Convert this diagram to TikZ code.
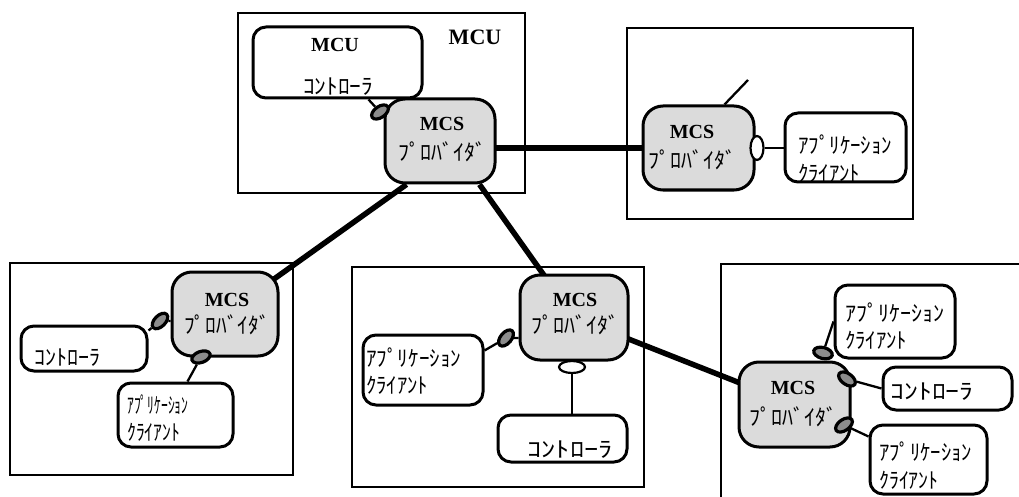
\documentclass[tikz,border=0pt]{standalone}
\usepackage{fontspec}
\setmainfont{Liberation Serif}
\newfontfamily\jp{Noto Sans CJK JP}
\usetikzlibrary{fit,shapes.geometric,backgrounds}
\begin{document}
\begin{tikzpicture}[x=1pt,y=-1pt,
  frame/.style={draw, line width=2.4pt, inner sep=0},
  prov/.style={draw, line width=3pt, rounded corners=20pt, fill=gray!28, inner sep=0},
  cbox/.style={draw, line width=3pt, rounded corners=13pt, fill=white, inner sep=0},
  blob/.style={ellipse, draw, line width=3.2pt, fill=black!45, minimum width=19pt, minimum height=11pt, inner sep=0},
  oport/.style={ellipse, draw, line width=2.2pt, fill=white, inner sep=0},
  link/.style={line width=5.5pt},
  wire/.style={line width=2.3pt},
  mcs/.style={font=\fontsize{20}{20}\selectfont\bfseries, inner sep=0},
  kana/.style={font=\jp\fontsize{22}{22}\selectfont, inner sep=0}]
\useasboundingbox (0,0) rectangle (1019,497);

% ---------- MCU site ----------
\node[frame, fit={(238,13) (525,193)}] (fU) {};
\node[mcs, font=\fontsize{22}{22}\selectfont\bfseries] (fUlab) at (475,37) {MCU};
\node[cbox, fit={(253,27) (422,98)}] (ctrlU) {};
\node[mcs] (ctrlUa) at (335,45) {MCU};
\node[kana] (ctrlUb) at (338,87) {\scalebox{1.06}[1]{ｺﾝﾄﾛｰﾗ}};
\node[prov, fit={(385,99) (495,183)}] (provU) {};
\node[mcs] (provUa) at (442,124) {MCS};
\node[kana] (provUb) at (442,152) {ﾌﾟﾛﾊﾞｲﾀﾞ};

% ---------- upper right site ----------
\node[frame, fit={(627,28) (913,219)}] (fR) {};
\node[prov, fit={(643,106) (754,190)}] (provR) {};
\node[mcs] (provRa) at (692,132) {MCS};
\node[kana] (provRb) at (692,160) {ﾌﾟﾛﾊﾞｲﾀﾞ};
\node[cbox, fit={(785,113) (906,182)}] (appR) {};
\node[kana, anchor=west] (appRa) at (798,145) {\scalebox{0.95}[1]{ｱﾌﾟﾘｹｰｼｮﾝ}};
\node[kana, anchor=west] (appRb) at (798,173) {\scalebox{0.94}[1]{ｸﾗｲｱﾝﾄ}};
\coordinate (tail) at (748,80);

% ---------- lower left site ----------
\node[frame, fit={(10,263) (293,475)}] (fL) {};
\node[prov, fit={(172,272) (278,356)}] (provL) {};
\node[mcs] (provLa) at (227,300) {MCS};
\node[kana] (provLb) at (227,325) {\scalebox{0.97}[1]{ﾌﾟﾛﾊﾞｲﾀﾞ}};
\node[cbox, fit={(21,326) (147,371)}] (ctrlL) {};
\node[kana, anchor=west] (ctrlLa) at (34,358) {ｺﾝﾄﾛｰﾗ};
\node[cbox, fit={(118,383) (233,447)}] (appL) {};
\node[kana, anchor=west] (appLa) at (127,405) {\scalebox{0.62}[1]{ｱﾌﾟﾘｹｰｼｮﾝ}};
\node[kana, anchor=west] (appLb) at (127,432) {\scalebox{0.8}[1]{ｸﾗｲｱﾝﾄ}};

% ---------- centre site ----------
\node[frame, fit={(352,267) (644,487)}] (fC) {};
\node[prov, fit={(520,275) (628,360)}] (provC) {};
\node[mcs] (provCa) at (575,300) {MCS};
\node[kana] (provCb) at (575,325) {ﾌﾟﾛﾊﾞｲﾀﾞ};
\node[cbox, fit={(363,335) (483,405)}] (appC) {};
\node[kana, anchor=west] (appCa) at (366,358) {\scalebox{0.96}[1]{ｱﾌﾟﾘｹｰｼｮﾝ}};
\node[kana, anchor=west] (appCb) at (366,385) {\scalebox{0.94}[1]{ｸﾗｲｱﾝﾄ}};
\node[cbox, fit={(498,415) (627,462)}] (ctrlC) {};
\node[kana] (ctrlCa) at (570,450) {\scalebox{1.29}[1]{ｺﾝﾄﾛｰﾗ}};

% ---------- lower right site ----------
\coordinate (fBa) at (1019,264);
\coordinate (fBb) at (721,264);
\coordinate (fBc) at (721,497);
\draw[line width=2.4pt] (fBa) -- (fBb) -- (fBc);
\node[prov, fit={(739,362) (850,447)}] (provB) {};
\node[mcs] (provBa) at (793,388) {MCS};
\node[kana] (provBb) at (793,417) {ﾌﾟﾛﾊﾞｲﾀﾞ};
\node[cbox, fit={(835,285) (955,358)}] (appB1) {};
\node[kana, anchor=west] (appB1a) at (845,313) {ｱﾌﾟﾘｹｰｼｮﾝ};
\node[kana, anchor=west] (appB1b) at (845,340) {\scalebox{0.94}[1]{ｸﾗｲｱﾝﾄ}};
\node[cbox, fit={(883,367) (1012,410)}] (ctrlB) {};
\node[kana] (ctrlBa) at (932,392) {\scalebox{1.26}[1]{ｺﾝﾄﾛｰﾗ}};
\node[cbox, fit={(870,425) (987,494)}] (appB2) {};
\node[kana, anchor=west] (appB2a) at (879,452) {\scalebox{0.94}[1]{ｱﾌﾟﾘｹｰｼｮﾝ}};
\node[kana, anchor=west] (appB2b) at (879,480) {\scalebox{0.9}[1]{ｸﾗｲｱﾝﾄ}};

% ---------- ports ----------
\node[blob, rotate=35] (pU) at (380,112) {};
\node[oport, minimum width=13pt, minimum height=24pt] (pR) at (757,148) {};
\node[blob, rotate=45] (pL1) at (160,321) {};
\node[blob, rotate=20] (pL2) at (201,357) {};
\node[blob, rotate=50] (pC1) at (506,338) {};
\node[oport, minimum width=26pt, minimum height=12pt] (pC2) at (572,367) {};
\node[blob, rotate=-15] (pB1) at (823,353) {};
\node[blob, rotate=-35] (pB2) at (847,379) {};
\node[blob, rotate=35] (pB3) at (844,425) {};

% ---------- connectors ----------
\begin{scope}[on background layer]
  \draw[link] (provU.center |- provR.center) -- (provR.center);
  \draw[link] ([xshift=23pt]provU.south west) -- (provL.center);
  \draw[link] ([xshift=-17pt]provU.south east) -- (provC.center);
  \draw[link] (provC.center) -- (provB.center);
  \draw[wire] ([xshift=-31pt]provR.north east) -- (tail);
  \draw[wire] ([xshift=-55pt]ctrlU.south east) -- (pU);
  \draw[wire] (pR) -- (appR.west |- pR);
  \draw[wire] ([yshift=-6pt]ctrlL.north east) -- (pL1) -- (provL.west |- pL1);
  \draw[wire] (pL2) -- ([xshift=12pt]appL.north);
  \draw[wire] ([yshift=-17pt]appC.north east) -- (pC1) -- (provC.west |- pC1);
  \draw[wire] (pC2) -- (pC2 |- ctrlC.north);
  \draw[wire] (pB1) -- (appB1.west);
  \draw[wire] (pB2) -- (ctrlB.west);
  \draw[wire] (pB3) -- ([yshift=23pt]appB2.west);
\end{scope}
\end{tikzpicture}
\end{document}
